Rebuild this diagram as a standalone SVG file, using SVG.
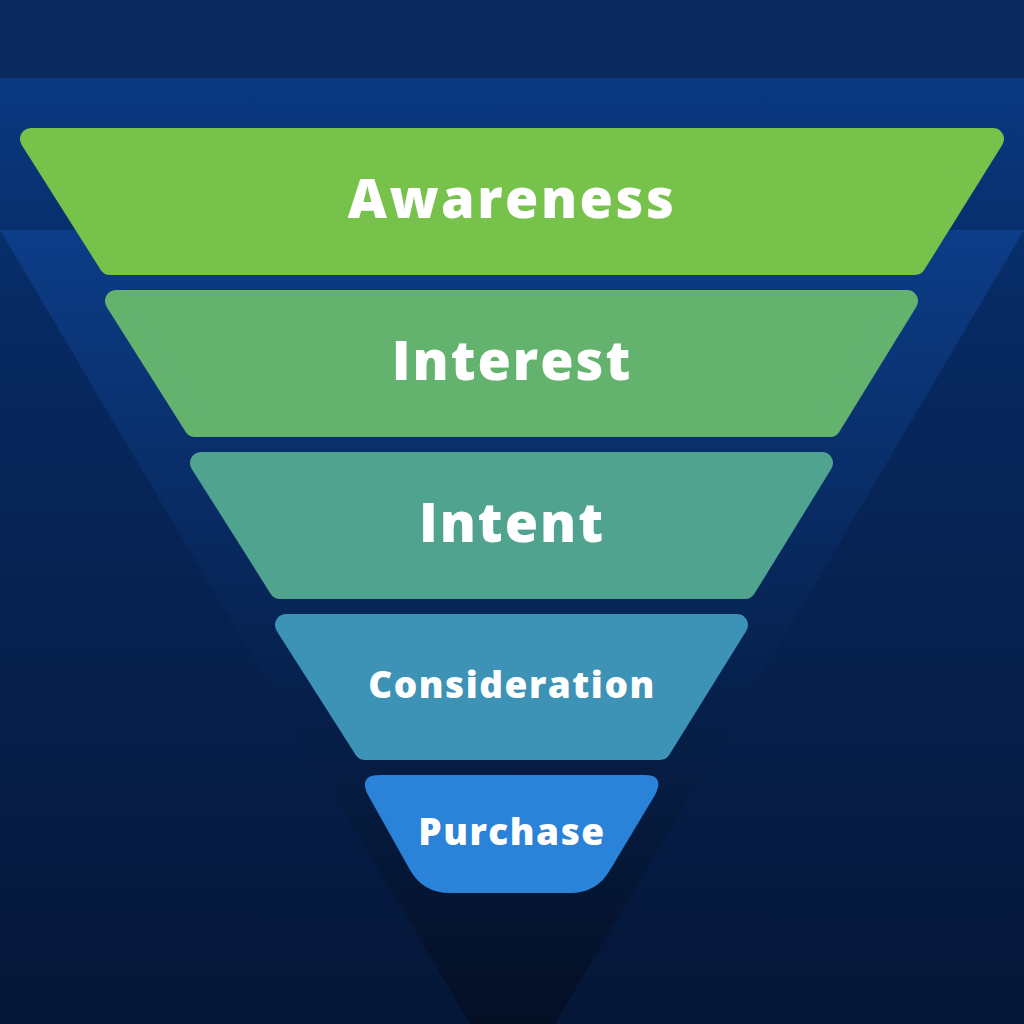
<svg xmlns="http://www.w3.org/2000/svg" width="1024" height="1024" viewBox="0 0 1024 1024">
<defs>
<linearGradient id="bg" x1="0" y1="0" x2="0" y2="1">
<stop offset="0" stop-color="#0b3f8e"/><stop offset="0.3" stop-color="#072a62"/><stop offset="1" stop-color="#051637"/>
</linearGradient>
<linearGradient id="tri" x1="0" y1="0" x2="0" y2="1">
<stop offset="0" stop-color="#0c3d88"/><stop offset="0.5" stop-color="#072454"/><stop offset="1" stop-color="#040f24"/>
</linearGradient>
<style>
.b{stroke-linejoin:round;stroke-width:22}
.t{font-family:"Open Sans","DejaVu Sans",sans-serif;font-weight:800;fill:#fff;text-anchor:middle}
</style>
</defs>
<rect width="1024" height="1024" fill="url(#bg)"/>
<rect width="1024" height="78" fill="#0a2a5e"/>
<polygon points="0,230 1024,230 555,1024 470,1024" fill="url(#tri)"/>
<g id="awareness"><polygon class="b" points="31,139 993,139 915,264 110,264" fill="#76c24b" stroke="#76c24b"/><text class="t" x="512" y="218" font-size="54" letter-spacing="2.5">Awareness</text></g>
<g id="interest"><polygon class="b" points="116,301 907,301 830,426 195,426" fill="#63b36f" stroke="#63b36f"/><text class="t" x="512" y="380" font-size="54" letter-spacing="2">Interest</text></g>
<g id="intent"><polygon class="b" points="201,463 822,463 745,588 280,588" fill="#4fa38f" stroke="#4fa38f"/><text class="t" x="512" y="542" font-size="54" letter-spacing="2">Intent</text></g>
<g id="consideration"><polygon class="b" points="286,625 737,625 660,749 365,749" fill="#3c93b5" stroke="#3c93b5"/><text class="t" x="512" y="698" font-size="37" letter-spacing="1.5">Consideration</text></g>
<g id="purchase"><path d="M380,775 H645 Q665,775 655,795 L610,870 Q597,893 570,893 H450 Q423,893 410,870 L368,795 Q358,775 380,775 Z" fill="#2a83d8"/><text class="t" x="512" y="845" font-size="37" letter-spacing="1.5">Purchase</text></g>
<g id="connectors"/>
</svg>
